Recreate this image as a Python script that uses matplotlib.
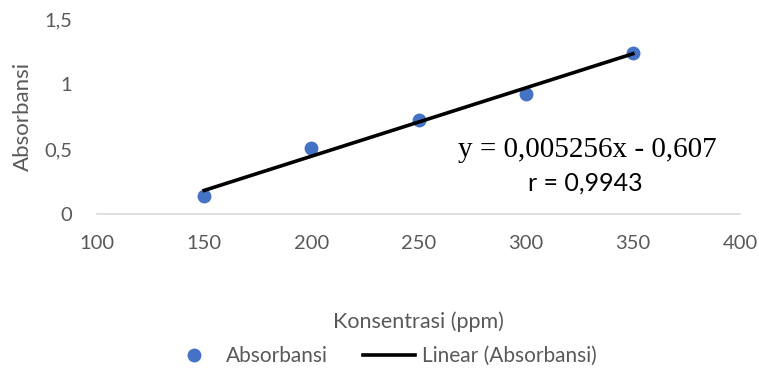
import numpy as np
import matplotlib
matplotlib.use("Agg")
import matplotlib.pyplot as plt
from matplotlib.lines import Line2D

konsentrasi = [150, 200, 250, 300, 350]
absorbansi = [0.135, 0.505, 0.72, 0.925, 1.24]
slope = 0.005256
intercept = -0.607
equation_text = "y = 0,005256x - 0,607"
r_text = "r = 0,9943"
x_ticks = [100, 150, 200, 250, 300, 350, 400]
y_ticks = [0, 0.5, 1, 1.5]
y_tick_labels = ["0", "0,5", "1", "1,5"]

plt.rcParams['font.family'] = ['Lato', 'DejaVu Sans']
gray = '#595959'
blue = '#4472C4'

fig = plt.figure(figsize=(7.59, 3.71), dpi=100)
ax = fig.add_axes([97/759, 1 - 214/371, (740-97)/759, (214-19)/371])

ax.scatter(konsentrasi, absorbansi, s=100, color=blue, zorder=3, linewidths=0)
xs = np.array([konsentrasi[0], konsentrasi[-1]])
ax.plot(xs, slope*xs + intercept, color='black', lw=2.6, zorder=4)

ax.set_xlim(100, 400)
ax.set_ylim(0, 1.5)
ax.set_xticks(x_ticks)
ax.set_xticklabels([str(v) for v in x_ticks])
ax.set_yticks(y_ticks)
ax.set_yticklabels(y_tick_labels)
ax.tick_params(axis='both', length=0, labelsize=14.5, colors=gray)
ax.tick_params(axis='x', pad=15)
ax.tick_params(axis='y', pad=18)
for s in ['top', 'right', 'left']:
    ax.spines[s].set_visible(False)
ax.spines['bottom'].set_color('#D9D9D9')
ax.spines['bottom'].set_linewidth(1.2)

ax.set_xlabel("Konsentrasi (ppm)", fontsize=15.5, color=gray, labelpad=43)
ax.set_ylabel("Absorbansi", fontsize=16, color=gray, labelpad=8)

ax.text(0.762, 0.33, equation_text, transform=ax.transAxes, ha='center', va='center',
        fontsize=21, family='Liberation Serif', color='black')
ax.text(0.759, 0.16, r_text, transform=ax.transAxes, ha='center', va='center',
        fontsize=18, color='black')

handles = [Line2D([], [], marker='o', color=blue, ls='none', markersize=10, markeredgewidth=0),
           Line2D([], [], color='black', lw=2.6)]
fig.legend(handles, ["Absorbansi", "Linear (Absorbansi)"], loc='center',
           bbox_to_anchor=(382/759, 1 - 356/371), ncol=2, frameon=False,
           fontsize=15, labelcolor=gray, handlelength=2.5, handletextpad=0.3,
           columnspacing=1.7)

fig.savefig("out.png", dpi=100)
